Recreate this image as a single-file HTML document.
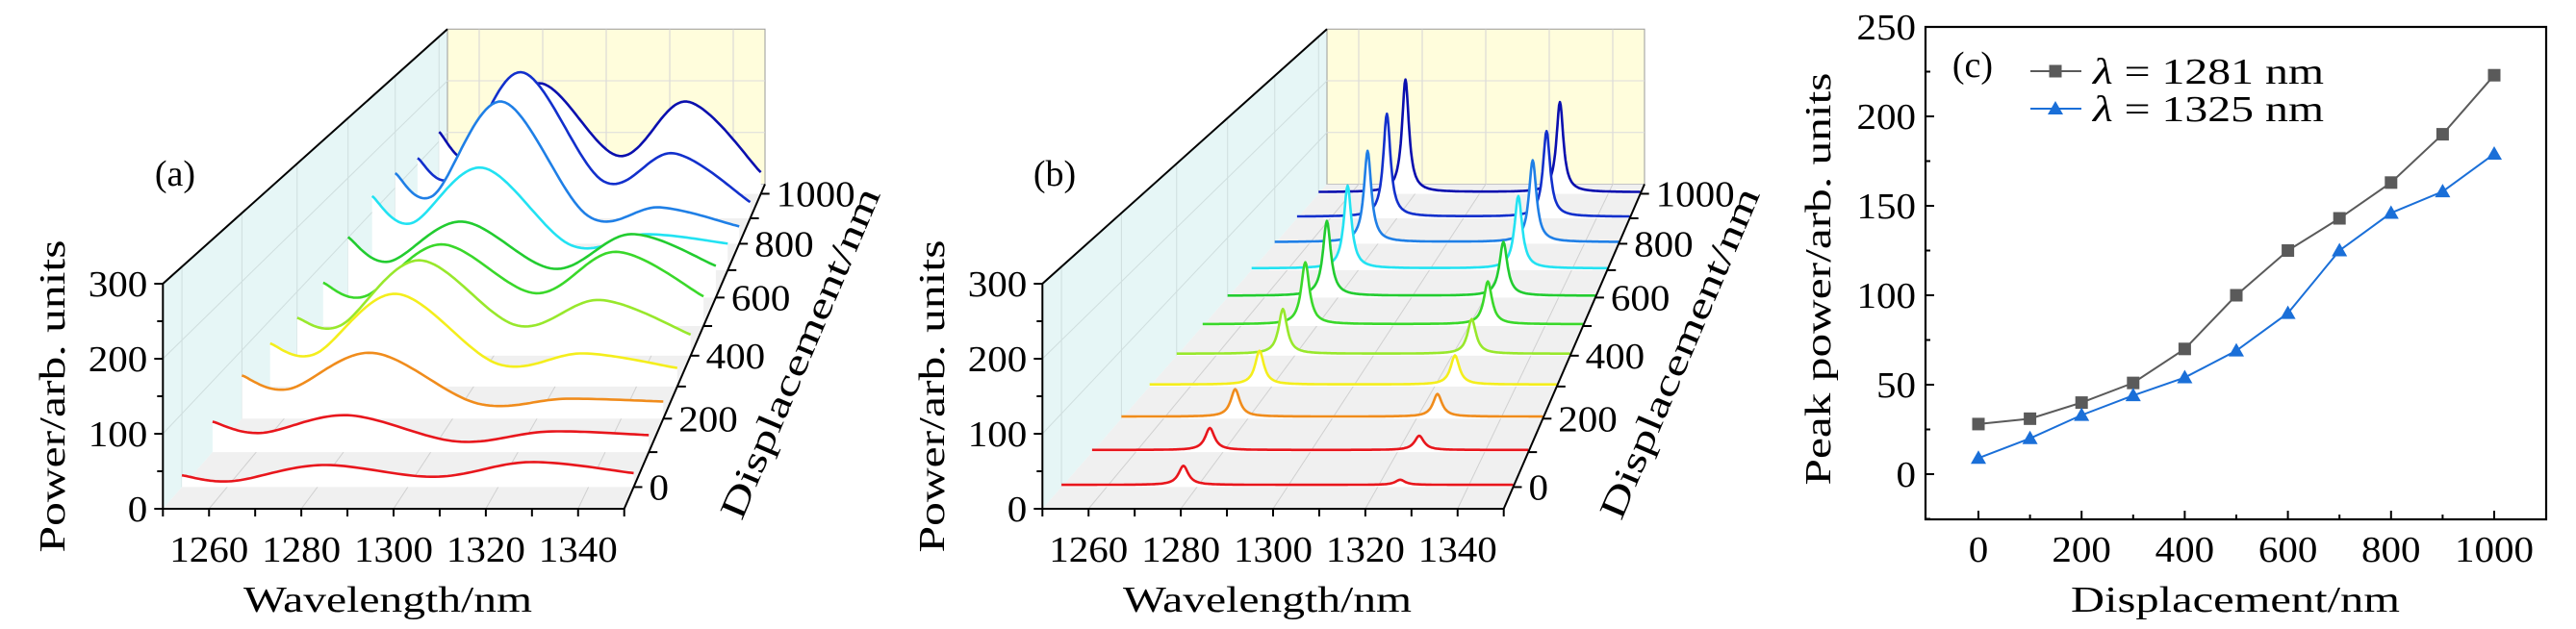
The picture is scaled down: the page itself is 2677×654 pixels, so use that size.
<!DOCTYPE html>
<html><head><meta charset="utf-8"><style>
html,body{margin:0;padding:0;background:#fff;}
svg{display:block;font-family:"Liberation Serif",serif;}
</style></head><body>
<svg id="fig" width="2677" height="654" viewBox="0 0 2677 654" xmlns="http://www.w3.org/2000/svg"></svg>
<script>
// ---------- data ----------
const displacements = [0,100,200,300,400,500,600,700,800,900,1000];
const curveColors = ['#e8161c','#e8161c','#f08c1c','#f4ee1c','#98e82c','#3ad82a','#22cc30','#22e2f2','#1f7fe6','#1230cc','#0a0fae'];
// panel (a): sample wavelengths and power values per displacement
const wlGridA = [1250,1261,1281,1306,1327,1350];
const specA0 = [16,8,30,14,34,19];
const specA100 = [43,27,52,15,29,24];
const specA200 = [63,43,96,22,29,25];
const specA300 = [65,49,140,34,50,28];
const specA400 = [59,47,149,47,87,33];
const specA500 = [70,48,132,53,120,48];
const specA600 = [101,60,127,48,106,53];
const specA700 = [128,81,177,43,62,46];
const specA800 = [126,86,254,50,65,31];
const specA900 = [111,77,270,68,120,30];
const specA1000 = [118,65,211,72,176,41];
const specsA = [specA0,specA100,specA200,specA300,specA400,specA500,specA600,specA700,specA800,specA900,specA1000];
// panel (b): narrow resonances
const peakWl1B = 1277;
const peakWl2B = 1325;
const peakAmp1B = [26,31,40,51,70,100,125,143,163,190,215];
const peakAmp2B = [7,20,33,44,54,69,90,125,146,158,172];
const baselineB = 3;
const widthB = 1.3;
// panel (c)
const dispC = [0,100,200,300,400,500,600,700,800,900,1000];
const peak1281 = [28,31,40,51,70,100,125,143,163,190,223];
const peak1325 = [9,20,33,44,54,69,90,125,146,158,179];
const xTicksC = [0,200,400,600,800,1000];
const yTicksC = [0,50,100,150,200,250];
const wlTicks = [1260,1280,1300,1320,1340];
const zTicks = [0,100,200,300];
const depthTicks = [0,200,400,600,800,1000];

const FS = 38;
const ns='http://www.w3.org/2000/svg';
const svg=document.getElementById('fig');
function mk(tag,attrs,parent){const e=document.createElementNS(ns,tag);for(const k in attrs)e.setAttribute(k,attrs[k]);(parent||svg).appendChild(e);return e;}
function txt(s,attrs,parent){const e=mk('text',attrs,parent);e.textContent=s;return e;}

// ---------- 3D projection ----------
function fD(D){const u=(D+60)/1100;return u*1.242/(1+0.242*u);}
function proj(ox,wl,D,z){return projF(ox,wl,fD(D),z);}
function projF(ox,wl,f,z){
  const xl=169.3+295.7*f+ox, xr=648.7+146.3*f+ox;
  const x=xl+(wl-1250)/100*(xr-xl);
  const by=529-337.5*f;
  return [x, by - z*0.78*(1-0.311*f)];
}
function pts(a){return a.map(p=>p[0].toFixed(1)+','+p[1].toFixed(1)).join(' ');}

function catmull(xs,ys,n){
  const out=[];
  for(let i=0;i<xs.length-1;i++){
    const i0=Math.max(0,i-1),i3=Math.min(xs.length-1,i+2);
    for(let s=0;s<n;s++){
      const t=s/n,t2=t*t,t3=t2*t;
      const c=(p0,p1,p2,p3)=>0.5*((2*p1)+(-p0+p2)*t+(2*p0-5*p1+4*p2-p3)*t2+(-p0+3*p1-3*p2+p3)*t3);
      out.push([c(xs[i0],xs[i],xs[i+1],xs[i3]),c(ys[i0],ys[i],ys[i+1],ys[i3])]);
    }
  }
  out.push([xs[xs.length-1],ys[ys.length-1]]);
  return out;
}

function drawFrame(ox,letter){
  const g=mk('g',{});
  
  
  const lw=mk('polygon',{points:pts([projF(ox,1250,0,0),projF(ox,1250,0,300),projF(ox,1250,1,300),projF(ox,1250,1,0)]),fill:'#e6f6f6',stroke:'none'},g);
  
  
  const bw=mk('polygon',{points:pts([projF(ox,1250,1,0),projF(ox,1250,1,300),projF(ox,1350,1,300),projF(ox,1350,1,0)]),fill:'#fffddc',stroke:'#9a9a9a','stroke-width':1},g);
  
  
  const fl=mk('polygon',{points:pts([projF(ox,1250,0,0),projF(ox,1350,0,0),projF(ox,1350,1,0),projF(ox,1250,1,0)]),fill:'#f0f0f0',stroke:'none'},g);
  
  
  for(const w of wlTicks){
    const a=projF(ox,w,1,0),b=projF(ox,w,1,300),c=projF(ox,w,0,0);
    const gl=mk('line',{x1:a[0],y1:a[1],x2:b[0],y2:b[1],stroke:'#d4d4d4','stroke-width':1},g);
    
    
    const fl2=mk('line',{x1:a[0],y1:a[1],x2:c[0],y2:c[1],stroke:'#d0d0d0','stroke-width':1},g);
    
    
  }
  for(const z of [100,200]){
    const a=projF(ox,1250,1,z),b=projF(ox,1350,1,z),c=projF(ox,1250,0,z);
    const gl=mk('line',{x1:a[0],y1:a[1],x2:b[0],y2:b[1],stroke:'#dcdcdc','stroke-width':1},g);
    
    
    const wl=mk('line',{x1:a[0],y1:a[1],x2:c[0],y2:c[1],stroke:'#cfdede','stroke-width':1},g);
    
    
  }
  for(const D of depthTicks){
    const a=proj(ox,1250,D,0),b=proj(ox,1250,D,300);
    const wl=mk('line',{x1:a[0],y1:a[1],x2:b[0],y2:b[1],stroke:'#cfdede','stroke-width':1},g);
    
    
  }
  return g;
}

function drawAxes(ox,letter){
  const g=mk('g',{});
  
  
  const o=projF(ox,1250,0,0),t=projF(ox,1250,0,300),bt=projF(ox,1250,1,300),fr=projF(ox,1350,0,0),br=projF(ox,1350,1,0);
  const ax=mk('path',{d:`M${o[0]},${o[1]}L${t[0]},${t[1]}L${bt[0]},${bt[1]}M${o[0]},${o[1]}L${fr[0]},${fr[1]}L${br[0]},${br[1]}`,fill:'none',stroke:'#000','stroke-width':2},g);
  
  
  for(let z=0;z<=300;z+=50){
    const p=projF(ox,1250,0,z);
    const tk=mk('line',{x1:p[0],y1:p[1],x2:p[0]-(z%100===0?9:6),y2:p[1],stroke:'#000','stroke-width':2},g);
    
    
  }
  for(const z of zTicks){
    const p=projF(ox,1250,0,z);
    const s=String(z);
    const l=txt(s,{x:p[0]-16,y:p[1]+13,'font-size':FS,'text-anchor':'end',textLength:s.length*20.5,lengthAdjust:'spacingAndGlyphs'},g);
    
    
  }
  for(let w=1250;w<=1350;w+=10){
    const p=projF(ox,w,0,0);
    const tk=mk('line',{x1:p[0],y1:p[1],x2:p[0],y2:p[1]+8,stroke:'#000','stroke-width':2},g);
    
    
  }
  for(const w of wlTicks){
    const p=projF(ox,w,0,0);
    const l=txt(String(w),{x:p[0],y:584,'font-size':FS,'text-anchor':'middle',textLength:82,lengthAdjust:'spacingAndGlyphs'},g);
    
    
  }
  for(let D=0;D<=1000;D+=100){
    const p=proj(ox,1350,D,0);
    const tk=mk('line',{x1:p[0],y1:p[1],x2:p[0]+9,y2:p[1],stroke:'#000','stroke-width':2},g);
    
    
  }
  for(const D of depthTicks){
    const p=proj(ox,1350,D,0);
    const s=String(D);
    const l=txt(s,{x:p[0]+16,y:p[1]+13,'font-size':FS,textLength:s.length*20.5,lengthAdjust:'spacingAndGlyphs'},g);
    
    
  }
  const yl=txt('Power/arb. units',{x:0,y:0,'font-size':FS,'text-anchor':'middle',textLength:325,lengthAdjust:'spacingAndGlyphs',transform:`translate(${ox+67},412) rotate(-90)`},g);
  
  
  const xl=txt('Wavelength/nm',{x:ox+403,y:636,'font-size':FS,'text-anchor':'middle',textLength:300,lengthAdjust:'spacingAndGlyphs'},g);
  
  
  const dl=txt('Displacement/nm',{x:0,y:0,'font-size':FS,'text-anchor':'middle',textLength:370,lengthAdjust:'spacingAndGlyphs',transform:`translate(${ox+843},372) rotate(-67)`},g);
  
  
  const pl=txt('('+letter+')',{x:ox+182,y:193,'font-size':FS,'text-anchor':'middle'},g);
  
  
}

function drawCurve(ox,D,data,color,g,name){
  const P=data.map(p=>proj(ox,p[0],D,p[1]));
  const a=proj(ox,1350,D,0),b=proj(ox,1250,D,0);
  const fill=mk('polygon',{points:pts(P.concat([a,b])),fill:'#fff',stroke:'none'},g);
  
  
  const ln=mk('polyline',{points:pts(P),fill:'none',stroke:color,'stroke-width':2.6,'stroke-linejoin':'round'},g);
  
  
}

// ---------- panel (a) ----------
drawFrame(0,'a');
const curvesA=mk('g',{});


for(let i=displacements.length-1;i>=0;i--){
  drawCurve(0,displacements[i],catmull(wlGridA,specsA[i],24),curveColors[i],curvesA,'spectrum-a-'+displacements[i]);
}
drawAxes(0,'a');

// ---------- panel (b) ----------
const OXB=914;
drawFrame(OXB,'b');
const curvesB=mk('g',{});


for(let i=displacements.length-1;i>=0;i--){
  const d=[];
  for(let w=1250;w<=1350.001;w+=0.25){
    const v=baselineB+peakAmp1B[i]/(1+Math.pow((w-peakWl1B)/widthB,2))+peakAmp2B[i]/(1+Math.pow((w-peakWl2B)/widthB,2));
    d.push([w,v]);
  }
  drawCurve(OXB,displacements[i],d,curveColors[i],curvesB,'spectrum-b-'+displacements[i]);
}
drawAxes(OXB,'b');

// ---------- panel (c) ----------
const L=2001,R=2646,T=28,B=540;
const xS=v=>2056+v*0.536;
const yS=v=>493-v*1.86;
const gc=mk('g',{});


const box=mk('rect',{x:L,y:T,width:R-L,height:B-T,fill:'none',stroke:'#000','stroke-width':2.2},gc);


for(let v=-25;v<=250;v+=25){
  const y=yS(v);
  const tk=mk('line',{x1:L,y1:y,x2:L+(v%50===0?9:5),y2:y,stroke:'#000','stroke-width':2},gc);
  
  
}
for(const v of yTicksC){
  const s=String(v);
  const l=txt(s,{x:1991,y:yS(v)+13,'font-size':FS,'text-anchor':'end',textLength:s.length*20.5,lengthAdjust:'spacingAndGlyphs'},gc);
  
  
}
for(let v=0;v<=1000;v+=100){
  const x=xS(v);
  const tk=mk('line',{x1:x,y1:B,x2:x,y2:B-(v%200===0?9:5),stroke:'#000','stroke-width':2},gc);
  
  
}
for(const v of xTicksC){
  const s=String(v);
  const l=txt(s,{x:xS(v),y:584,'font-size':FS,'text-anchor':'middle',textLength:s.length*20.5,lengthAdjust:'spacingAndGlyphs'},gc);
  
  
}
const yt=txt('Peak power/arb. units',{x:0,y:0,'font-size':FS,'text-anchor':'middle',textLength:429,lengthAdjust:'spacingAndGlyphs',transform:'translate(1902,290) rotate(-90)'},gc);


const xt=txt('Displacement/nm',{x:2323,y:636,'font-size':FS,'text-anchor':'middle',textLength:342,lengthAdjust:'spacingAndGlyphs'},gc);


const lc=txt('(c)',{x:2050,y:80,'font-size':FS,'text-anchor':'middle'},gc);



function sq(x,y,c,p){return mk('rect',{x:x-6.5,y:y-6.5,width:13,height:13,fill:c},p);}
function tri(x,y,c,p){return mk('polygon',{points:`${x},${y-8} ${x-8},${y+6} ${x+8},${y+6}`,fill:c},p);}
const s1=mk('polyline',{points:dispC.map((d,i)=>xS(d)+','+yS(peak1281[i])).join(' '),fill:'none',stroke:'#5a5a5a','stroke-width':2},gc);


const s2=mk('polyline',{points:dispC.map((d,i)=>xS(d)+','+yS(peak1325[i])).join(' '),fill:'none',stroke:'#1a6fd8','stroke-width':2},gc);


dispC.forEach((d,i)=>{
  const m=sq(xS(d),yS(peak1281[i]),'#5a5a5a',gc);
  
  
});
dispC.forEach((d,i)=>{
  const m=tri(xS(d),yS(peak1325[i]),'#1a6fd8',gc);
  
  
});
// legend
const lg=mk('g',{},gc);


const l1=mk('line',{x1:2110,y1:74,x2:2163,y2:74,stroke:'#5a5a5a','stroke-width':2},lg);


const lm1=sq(2136,74,'#5a5a5a',lg);


const lt1=txt('',{x:2175,y:87,'font-size':FS,textLength:240,lengthAdjust:'spacingAndGlyphs'},lg);
lt1.innerHTML='<tspan font-style="italic">λ</tspan> = 1281 nm';


const l2=mk('line',{x1:2110,y1:113,x2:2163,y2:113,stroke:'#1a6fd8','stroke-width':2},lg);


const lm2=tri(2136,113,'#1a6fd8',lg);


const lt2=txt('',{x:2175,y:126,'font-size':FS,textLength:240,lengthAdjust:'spacingAndGlyphs'},lg);
lt2.innerHTML='<tspan font-style="italic">λ</tspan> = 1325 nm';


</script>
</body></html>
